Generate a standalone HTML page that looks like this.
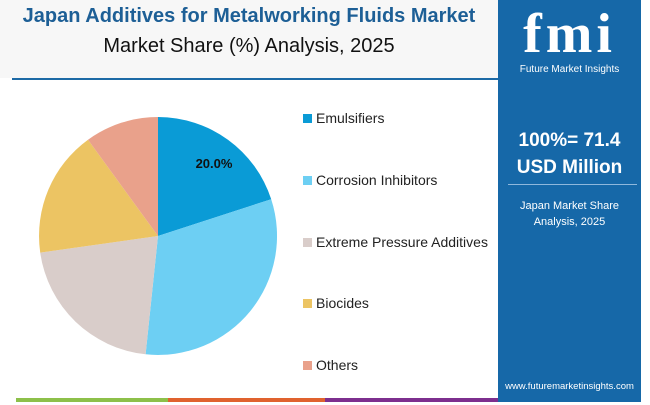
<!DOCTYPE html>
<html><head><meta charset="utf-8"><style>
body{margin:0;width:650px;height:405px;background:#fff;position:relative;overflow:hidden;font-family:"Liberation Sans",sans-serif}
.hdr{position:absolute;left:0;top:0;width:498px;height:78px;background:#f7f7f7}
.t1{position:absolute;left:0;width:498px;top:5px;text-align:center;color:#1d5f96;font-weight:bold;font-size:20px}
.t2{position:absolute;left:0;width:498px;top:35px;text-align:center;color:#111;font-size:20px}
.line{position:absolute;left:12px;top:78px;width:486px;height:2px;background:#1d6aa6}
.panel{position:absolute;left:498px;top:0;width:143px;height:402px;background:#1668a8}
.leg{position:absolute;left:303px;font-size:14px;color:#222}
.leg i{display:inline-block;width:9px;height:9px;margin-right:4px;vertical-align:0}
.w{color:#fff;position:absolute;left:0;width:143px;text-align:center}
</style></head><body>
<div class="hdr"></div>
<div class="t1">Japan Additives for Metalworking Fluids Market</div>
<div class="t2">Market Share (%) Analysis, 2025</div>
<div class="line"></div>
<svg style="position:absolute;left:0;top:0" width="500" height="405">
<path d="M158,236 L158,117 A119,119 0 0 1 271.2,199.2Z" fill="#0a9bd6"/>
<path d="M158,236 L271.2,199.2 A119,119 0 0 1 145.6,354.3Z" fill="#6dcff3"/>
<path d="M158,236 L145.6,354.3 A119,119 0 0 1 40.2,252.6Z" fill="#d9cdca"/>
<path d="M158,236 L40.2,252.6 A119,119 0 0 1 88,139.7Z" fill="#ecc463"/>
<path d="M158,236 L88,139.7 A119,119 0 0 1 158,117Z" fill="#e9a18b"/>
<text x="214" y="168" text-anchor="middle" font-size="13" font-weight="bold" fill="#111" font-family="Liberation Sans">20.0%</text>
<rect x="16" y="398" width="152" height="4" fill="#8dc04a"/>
<rect x="168" y="398" width="157" height="4" fill="#e0622e"/>
<rect x="325" y="398" width="173" height="4" fill="#7d2f8e"/>
</svg>
<div class="leg" style="top:110px"><i style="background:#0a9bd6"></i>Emulsifiers</div>
<div class="leg" style="top:172px"><i style="background:#6dcff3"></i>Corrosion Inhibitors</div>
<div class="leg" style="top:234px"><i style="background:#d9cdca"></i>Extreme Pressure Additives</div>
<div class="leg" style="top:295px"><i style="background:#ecc463"></i>Biocides</div>
<div class="leg" style="top:357px"><i style="background:#e9a18b"></i>Others</div>
<div class="panel">
<div class="w" style="top:2px;font-size:56px;font-weight:bold;font-family:'Liberation Serif',serif;letter-spacing:4px">fmi</div>
<div class="w" style="top:64px;font-size:10px">Future Market Insights</div>
<div class="w" style="top:130px;font-size:19px;font-weight:bold">100%= 71.4</div>
<div class="w" style="top:157px;font-size:19px;font-weight:bold">USD Million</div>
<div style="position:absolute;left:10px;top:184px;width:129px;height:1px;background:#8fb8dc"></div>
<div class="w" style="top:198px;font-size:11px;line-height:16px">Japan Market Share<br>Analysis, 2025</div>
<div class="w" style="top:381px;font-size:9.5px">www.futuremarketinsights.com</div>
</div>
</body></html>
